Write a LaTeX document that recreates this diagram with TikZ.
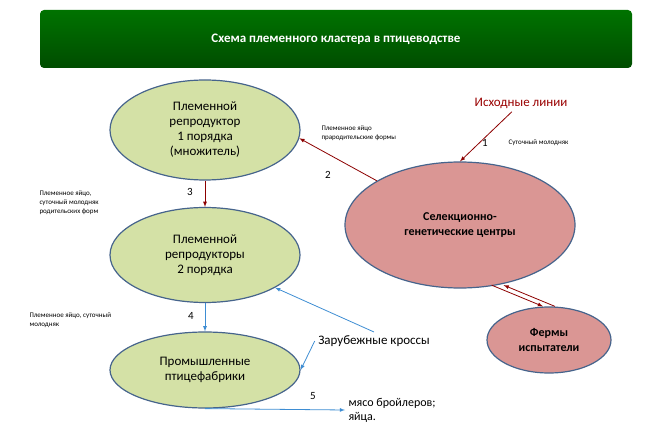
\documentclass[tikz,border=0pt]{standalone}
\usepackage{fontspec}
\setmainfont{Carlito}
\usetikzlibrary{shapes.geometric}
\definecolor{gfill}{RGB}{212,225,166}
\definecolor{pfill}{RGB}{218,150,148}
\definecolor{edge}{RGB}{70,100,140}
\begin{document}
\begin{tikzpicture}[x=1pt,y=-1pt,
 gnode/.style={ellipse,draw=edge,fill=gfill,line width=1.2pt,align=center,font=\fontsize{13}{15}\selectfont,inner sep=0pt},
 pnode/.style={ellipse,draw=edge,fill=pfill,line width=1.2pt,align=center,font=\bfseries\fontsize{12}{15}\selectfont,inner sep=0pt},
 redarr/.style={draw=red!55!black,-latex,line width=0.8pt},
 bluearr/.style={draw=cyan!60!blue!80,-latex,line width=0.8pt},
 small/.style={font=\fontsize{7}{9}\selectfont,align=left},
 num/.style={font=\fontsize{11}{13}\selectfont}]
\useasboundingbox (0,0) rectangle (647,435);
\shade[top color=green!45!black,bottom color=green!30!black,rounded corners=4pt] (40,10) rectangle (632,68);
\node[text=white,font=\bfseries\fontsize{13}{15}\selectfont] (title) at (336,39) {Схема племенного кластера в птицеводстве};
\node[gnode,minimum width=190,minimum height=100] (e1) at (205,130) {Племенной\\репродуктор\\1 порядка\\(множитель)};
\node[gnode,minimum width=190,minimum height=95] (e2) at (205,255) {Племенной\\репродукторы\\2 порядка};
\node[gnode,minimum width=190,minimum height=76] (e3) at (205,370) {Промышленные\\птицефабрики};
\node[pnode,minimum width=230,minimum height=126] (pc) at (460,225) {Селекционно-\\генетические центры};
\node[pnode,minimum width=124,minimum height=66] (fe) at (549,340) {Фермы\\испытатели};
\node[text=red!60!black,font=\fontsize{13}{15}\selectfont] (src) at (521,103) {Исходные линии};
\node[font=\fontsize{13}{15}\selectfont] (kr) at (374,341) {Зарубежные кроссы};
\node[font=\fontsize{12}{14}\selectfont,align=left,anchor=west] (out) at (345,410) {мясо бройлеров;\\яйца.};
\coordinate (o5) at (345,410);
\draw[redarr] (src) -- (pc.north);
\draw[redarr] (pc.152) -- (e1.-5);
\draw[redarr] (e1) -- (e2);
\draw[bluearr] (e2) -- (e3);
\draw[bluearr] (kr.north) -- (e2.-25);
\draw[bluearr] (kr.west) -- (e3.east);
\draw[bluearr] (e3.south) -- (o5);
\draw[redarr] ([xshift=-6]pc.-58) -- ([xshift=-6]fe.north);
\draw[redarr] ([xshift=6]fe.north) -- ([xshift=6]pc.-58);
\node[num] (n1) at (485,143) {1};
\node[small,anchor=west] (l1) at (505,143) {Суточный молодняк};
\node[num] (n2) at (328,175) {2};
\node[small,anchor=west] (l2) at (318,133) {Племенное яйцо\\прародительские формы};
\node[num] (n3) at (190,192) {3};
\node[small,anchor=west] (l3) at (36,203) {Племенное яйцо,\\суточный молодняк\\родительских форм};
\node[num] (n4) at (191,316) {4};
\node[small,anchor=west] (l4) at (26,320) {Племенное яйцо, суточный\\молодняк};
\node[num] (n5) at (313,396) {5};
\end{tikzpicture}
\end{document}
